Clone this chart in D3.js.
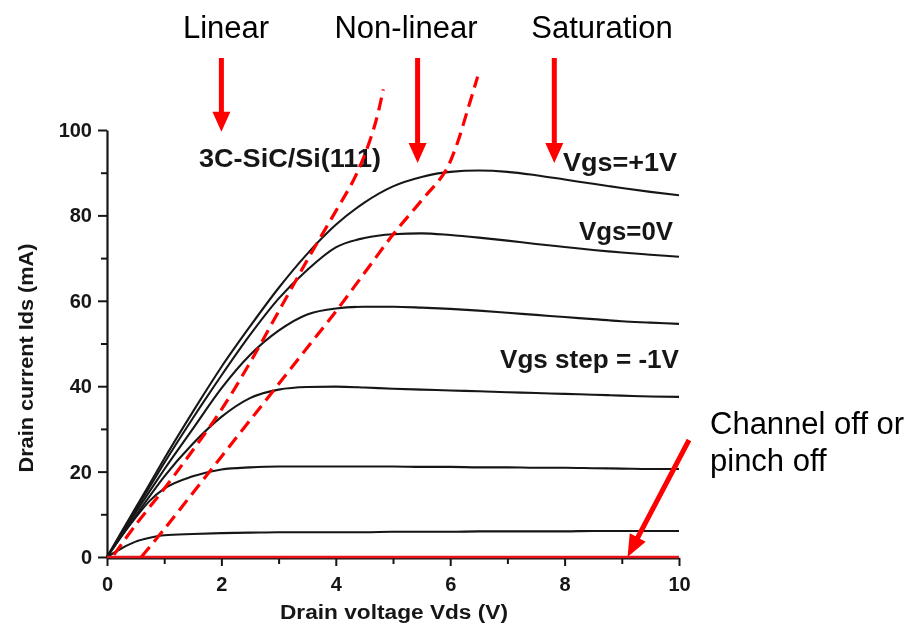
<!DOCTYPE html>
<html>
<head>
<meta charset="utf-8">
<script src="https://cdn.jsdelivr.net/npm/d3@7"></script>
<style>
  html, body { margin: 0; padding: 0; background: #fff; }
  svg { display: block; }
</style>
</head>
<body>
<svg id="chart" width="914" height="630"></svg>
<script>
// Drain voltage samples (V) shared by every output curve
const vds = [0, 0.25, 0.5, 0.75, 1, 1.5, 2, 2.5, 3, 3.5, 4, 4.5, 5, 5.5, 6, 6.5, 7, 7.5, 8, 8.5, 9, 9.5, 10];

// Drain current (mA) for each gate voltage
const idsVgsP1 = [0, 5.8, 11.5, 17.2, 23, 34, 44.5, 54, 63, 71, 77.8, 83, 86.8, 89, 90.2, 90.5, 90.2, 89.4, 88.4, 87.4, 86.4, 85.5, 84.7];
const idsVgs0  = [0, 5.5, 11, 16.5, 22, 32.5, 42.5, 52, 60.5, 67.2, 72.5, 74.7, 75.6, 75.8, 75.4, 74.8, 74.1, 73.3, 72.6, 71.9, 71.3, 70.8, 70.3];
const idsVgsM1 = [0, 5.2, 10.4, 15.5, 20.5, 30, 39.5, 47.3, 53, 56.8, 58.2, 58.6, 58.6, 58.4, 58.1, 57.7, 57.2, 56.7, 56.2, 55.7, 55.2, 54.9, 54.6];
const idsVgsM2 = [0, 4.8, 9.6, 14.3, 18.8, 26.5, 32.8, 37.2, 39.2, 39.8, 39.9, 39.7, 39.4, 39.2, 39.0, 38.8, 38.6, 38.4, 38.2, 38.0, 37.8, 37.6, 37.5];
const idsVgsM3 = [0, 4.8, 9.2, 13.2, 16, 18.9, 20.5, 21, 21.2, 21.2, 21.2, 21.2, 21.2, 21.1, 21.1, 21.0, 21.0, 20.9, 20.9, 20.8, 20.7, 20.6, 20.6];
const idsVgsM4 = [0, 2.0, 3.6, 4.5, 5.1, 5.4, 5.6, 5.7, 5.8, 5.8, 5.8, 5.8, 5.9, 5.9, 5.9, 6.0, 6.0, 6.0, 6.0, 6.1, 6.1, 6.1, 6.1];

// Channel fully pinched off
const pinchVds = [0, 10];
const pinchIds = [0, 0];

// Region boundaries (dashed)
const boundary1Vds = [0.12, 0.5, 1, 1.5, 2, 2.5, 3, 3.5, 4, 4.3, 4.5, 4.7, 4.83];
const boundary1Ids = [0.5, 7.5, 16, 25, 34.5, 45.5, 57.5, 69.5, 81, 88, 94, 102, 109.5];
const boundary2Vds = [0.6, 1, 1.5, 2, 2.5, 3, 3.5, 4, 4.5, 5, 5.5, 5.9, 6.1, 6.3, 6.48];
const boundary2Ids = [0, 6.5, 15, 23.5, 32, 40.5, 49, 57.5, 66.5, 75.5, 83.5, 90, 96, 104.5, 112.5];

// Axis ticks
const xTicks = [0, 2, 4, 6, 8, 10];
const xMinorTicks = [1, 3, 5, 7, 9];
const yTicks = [0, 20, 40, 60, 80, 100];
const yMinorTicks = [10, 30, 50, 70, 90];

// Texts
const xTitle = "Drain voltage Vds (V)";
const yTitle = "Drain current Ids (mA)";
const sampleLabel = "3C-SiC/Si(111)";
const curveLabels = ["Vgs=+1V", "Vgs=0V", "Vgs step = -1V"];
const regionLabels = ["Linear", "Non-linear", "Saturation"];
const pinchLabel = ["Channel off or", "pinch off"];

// ---------------------------------------------------------------
const svg = d3.select("#chart");
const x = d3.scaleLinear().domain([0, 10]).range([107, 679]);
const y = d3.scaleLinear().domain([0, 100]).range([557, 130]);

const defs = svg.append("defs");
defs.append("filter").attr("id", "soft")
  .attr("x", "-5%").attr("y", "-5%").attr("width", "110%").attr("height", "110%")
  .append("feGaussianBlur").attr("stdDeviation", 0.55);

const plot = svg.append("g").attr("filter", "url(#soft)");
const ink = "#161616";
const boldFont = "'Liberation Sans', Arial, sans-serif";

// Y axis
plot.append("g").attr("transform", `translate(${x(0)},0)`)
  .call(d3.axisLeft(y).tickValues(yTicks).tickSize(9).tickSizeOuter(0).tickPadding(6));
plot.append("g").attr("transform", `translate(${x(0)},0)`)
  .call(d3.axisLeft(y).tickValues(yMinorTicks).tickSize(6).tickSizeOuter(0).tickFormat(""))
  .select(".domain").remove();

// X axis
const xAxis = plot.append("g").attr("transform", `translate(0,${y(0) + 1})`)
  .call(d3.axisBottom(x).tickValues(xTicks).tickSize(8).tickSizeOuter(0).tickPadding(10));
plot.append("g").attr("transform", `translate(0,${y(0) + 1})`)
  .call(d3.axisBottom(x).tickValues(xMinorTicks).tickSize(6).tickSizeOuter(0).tickFormat(""))
  .select(".domain").remove();

plot.selectAll(".domain").attr("stroke", ink).attr("stroke-width", 2.2);
plot.selectAll(".tick line").attr("stroke", ink).attr("stroke-width", 2);
plot.selectAll(".tick text")
  .attr("fill", ink)
  .style("font-family", boldFont)
  .style("font-weight", "bold")
  .style("font-size", "20px");
xAxis.selectAll(".tick text").attr("dy", "0.75em");

// Axis titles
plot.append("text")
  .attr("x", 394).attr("y", 619)
  .attr("text-anchor", "middle")
  .attr("textLength", 228).attr("lengthAdjust", "spacingAndGlyphs")
  .style("font-family", boldFont).style("font-weight", "bold").style("font-size", "20px")
  .attr("fill", ink).text(xTitle);
plot.append("text")
  .attr("transform", "translate(33,358) rotate(-90)")
  .attr("text-anchor", "middle")
  .attr("textLength", 229).attr("lengthAdjust", "spacingAndGlyphs")
  .style("font-family", boldFont).style("font-weight", "bold").style("font-size", "20px")
  .attr("fill", ink).text(yTitle);

// Output characteristics
const line = d3.line()
  .x(d => x(d[0]))
  .y(d => y(d[1]))
  .curve(d3.curveMonotoneX);

const family = [idsVgsP1, idsVgs0, idsVgsM1, idsVgsM2, idsVgsM3, idsVgsM4];
plot.append("g").selectAll("path").data(family).join("path")
  .attr("d", ids => line(vds.map((v, i) => [v, ids[i]])))
  .attr("fill", "none").attr("stroke", ink).attr("stroke-width", 2.1);

// Annotation texts inside the plot
const inPlotText = (txt, px, py, anchor) => plot.append("text")
  .attr("x", px).attr("y", py).attr("text-anchor", anchor)
  .style("font-family", boldFont).style("font-weight", "bold").style("font-size", "26px")
  .attr("fill", ink).text(txt);
inPlotText(sampleLabel, 199, 167, "start").attr("textLength", 182).attr("lengthAdjust", "spacingAndGlyphs");
inPlotText(curveLabels[0], 677, 171, "end").attr("textLength", 114).attr("lengthAdjust", "spacingAndGlyphs");
inPlotText(curveLabels[1], 673, 240, "end").attr("textLength", 94).attr("lengthAdjust", "spacingAndGlyphs");
inPlotText(curveLabels[2], 679, 368, "end").attr("textLength", 179).attr("lengthAdjust", "spacingAndGlyphs");

// Red overlays
const red = "#ff0000";
const over = svg.append("g");

over.append("path")
  .attr("d", line(pinchVds.map((v, i) => [v, pinchIds[i]])))
  .attr("fill", "none").attr("stroke", "#e8121a").attr("stroke-width", 2.6);

const dashLine = d3.line().x(d => x(d[0])).y(d => y(d[1])).curve(d3.curveCatmullRom.alpha(0.5));
[[boundary1Vds, boundary1Ids], [boundary2Vds, boundary2Ids]].forEach(([vs, is]) => {
  over.append("path")
    .attr("d", dashLine(vs.map((v, i) => [v, is[i]])))
    .attr("fill", "none").attr("stroke", red)
    .attr("stroke-width", 3.2).attr("stroke-dasharray", "13,7");
});

// Block arrow from (x1,y1) to tip (x2,y2)
function arrow(x1, y1, x2, y2, shaftW, headL, headW) {
  const dx = x2 - x1, dy = y2 - y1, len = Math.hypot(dx, dy);
  const ux = dx / len, uy = dy / len, nx = -uy, ny = ux;
  const bx = x2 - ux * headL, by = y2 - uy * headL;
  const pts = [
    [x1 + nx * shaftW / 2, y1 + ny * shaftW / 2],
    [bx + nx * shaftW / 2, by + ny * shaftW / 2],
    [bx + nx * headW / 2, by + ny * headW / 2],
    [x2, y2],
    [bx - nx * headW / 2, by - ny * headW / 2],
    [bx - nx * shaftW / 2, by - ny * shaftW / 2],
    [x1 - nx * shaftW / 2, y1 - ny * shaftW / 2]
  ];
  over.append("path").attr("d", "M" + pts.map(p => p.join(",")).join("L") + "Z").attr("fill", red);
}

const regionVds = [2.0, 5.43, 7.82];
const regionTip = [99.6, 92.3, 92.3];
const labelCx = [226, 406, 602];
regionVds.forEach((v, i) => {
  arrow(x(v), 58, x(v), y(regionTip[i]), 5, 20, 18);
  svg.append("text").attr("x", labelCx[i]).attr("y", 38)
    .attr("text-anchor", "middle")
    .style("font-family", "'Liberation Sans', Arial, sans-serif").style("font-size", "31px")
    .attr("fill", "#000").text(regionLabels[i]);
});

// Pinch-off callout
arrow(689, 440, x(9.1), y(0), 5, 22, 18);
pinchLabel.forEach((t, i) => {
  svg.append("text").attr("x", 710).attr("y", 434 + i * 37)
    .style("font-family", "'Liberation Sans', Arial, sans-serif").style("font-size", "31px")
    .attr("fill", "#000").text(t);
});
</script>
</body>
</html>
